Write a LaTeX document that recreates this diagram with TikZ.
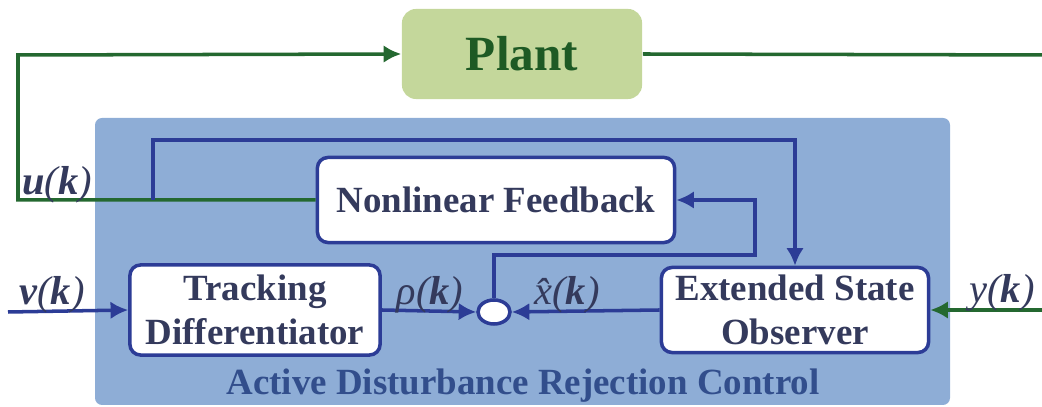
\documentclass[tikz,border=0pt]{standalone}
\usepackage{fontspec}
\setmainfont{Liberation Serif}
\usepackage{amsmath}
\usetikzlibrary{arrows.meta,shapes.geometric}
\definecolor{vert}{RGB}{36,104,48}
\definecolor{vertclair}{RGB}{196,215,155}
\definecolor{vertfonce}{RGB}{30,90,36}
\definecolor{bleufond}{RGB}{142,173,214}
\definecolor{bleu}{RGB}{44,60,150}
\definecolor{texte}{RGB}{52,58,92}
\definecolor{titre}{RGB}{50,78,140}
\tikzset{
  bloc/.style={draw=bleu, line width=1pt, fill=white, rounded corners=3pt,
    font=\fontsize{10.5}{12.5}\selectfont\bfseries, text=texte, align=center, inner sep=0pt},
  fleche/.style={draw=bleu, line width=1pt, -{Latex[length=5pt,width=5pt]}},
  filvert/.style={draw=vert, line width=1pt, -{Latex[length=5pt,width=5pt]}},
  lab/.style={font=\fontsize{11.5}{13}\selectfont\itshape, text=texte, inner sep=0pt}
}
\begin{document}
\begin{tikzpicture}[x=0.01cm,y=-0.01cm]
\useasboundingbox (0,0) rectangle (1042,407);
% fond ADRC
\fill [bleufond, rounded corners=2pt] (95,118) rectangle (950,405);
\node [font=\fontsize{10.5}{12.5}\selectfont\bfseries, text=titre] (titre) at (523,386) {Active Disturbance Rejection Control};
% blocs
\node [fill=vertclair, rounded corners=4pt, minimum width=2.4cm, minimum height=0.9cm,
  font=\fontsize{14}{16}\selectfont\bfseries, text=vertfonce] (plant) at (522,54) {Plant};
\node [bloc, minimum width=3.57cm, minimum height=0.85cm] (nf) at (496,200) {Nonlinear Feedback};
\node [bloc, minimum width=2.5cm, minimum height=0.9cm] (td) at (255,310) {Tracking\\Differentiator};
\node [bloc, minimum width=2.67cm, minimum height=0.85cm] (eso) at (795,310) {Extended State\\Observer};
\node [ellipse, draw=bleu, line width=1pt, fill=white, minimum width=0.32cm, minimum height=0.24cm, inner sep=0pt] (somme) at (494,312) {};
% points
\coordinate (gauche) at (18,55);
\coordinate (coin) at (1050,55);
\coordinate (noeud) at (153,200);
\coordinate (retour) at (755,255);
\coordinate (entree) at (8,312);
% liaisons
\draw [filvert] (nf.west) -| (gauche) -- (plant.west);
\draw [filvert] (plant.east) -- (coin) |- (eso.east);
\draw [fleche] (noeud) -- ++(0,-60) -| (eso.north);
\draw [fleche] (entree) -- (td.west);
\draw [fleche] (td.east) -- (somme.west);
\draw [fleche] (eso.west) -- (somme.east);
\draw [fleche] (somme.north) |- (retour) |- (nf.east);
% etiquettes
\node [lab] (lu) at (57,185) {\textbf{u}(\textbf{k})};
\node [lab] (lv) at (52,295) {\textbf{v}(\textbf{k})};
\node [lab] (lrho) at (430,295) {ρ(\textbf{k})};
\node [lab] (lx) at (567,295) {x̂(\textbf{k})};
\node [lab] (ly) at (1002,293) {y(\textbf{k})};
\end{tikzpicture}
\end{document}
